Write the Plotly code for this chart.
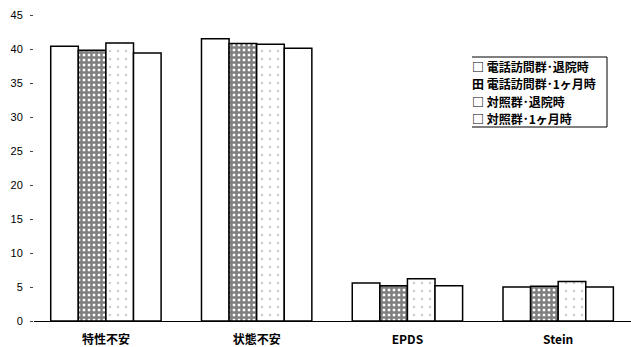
import plotly.graph_objects as go

# Measures and group means
categories = ["特性不安", "状態不安", "EPDS", "Stein"]
series_names = ["電話訪問群･退院時", "電話訪問群･1ヶ月時", "対照群･退院時", "対照群･1ヶ月時"]
tel_discharge = [40.4, 41.5, 5.6, 5.0]
tel_1month = [39.8, 40.8, 5.2, 5.1]
ctrl_discharge = [40.9, 40.7, 6.2, 5.8]
ctrl_1month = [39.4, 40.1, 5.2, 5.0]
y_ticks = [0, 5, 10, 15, 20, 25, 30, 35, 40, 45]
legend_marks = ["□", "田", "□", "□"]

series = [tel_discharge, tel_1month, ctrl_discharge, ctrl_1month]
patterns = [
    dict(shape=""),
    dict(shape="+", fgcolor="black", bgcolor="white", size=5, solidity=0.75),
    dict(shape=".", fgcolor="#9a9a9a", bgcolor="white", size=8, solidity=0.08),
    dict(shape=""),
]

W, H = 631, 347
ML, MR, MT, MB = 34, 0, 15, 26
PW, PH = W - ML - MR, H - MT - MB

bar_w = 0.183
fig = go.Figure()
for i, (name, vals) in enumerate(zip(series_names, series)):
    fig.add_trace(go.Bar(
        x=categories,
        y=vals,
        name=name,
        width=bar_w,
        offset=-2 * bar_w + i * bar_w,
        marker=dict(color="white", pattern=patterns[i],
                    line=dict(color="black", width=1.5)),
        showlegend=False,
    ))

jp_font = "Noto Sans CJK JP"


def px(xp, yp):
    """Pixel position -> paper coordinates of the plot area."""
    return (xp - ML) / PW, (H - MB - yp) / PH


# Legend block: one text row per series, each with its box mark
row_y = [67, 84, 101, 118]
for mark, name, yp in zip(legend_marks, series_names, row_y):
    ax, ay = px(471, yp)
    fig.add_annotation(
        x=ax, y=ay, xref="paper", yref="paper",
        text=f"{mark} {name}", showarrow=False, align="left",
        xanchor="left", yanchor="middle", borderpad=0,
        font=dict(family=jp_font, size=12, color="black", weight="bold"),
    )

fig.update_layout(
    width=W, height=H,
    margin=dict(l=ML, r=MR, t=MT, b=MB),
    paper_bgcolor="white", plot_bgcolor="white",
    barmode="overlay",
    font=dict(family="Liberation Sans", color="black"),
)
fig.update_xaxes(
    range=[-0.477, 3.483], showline=True, linecolor="black", linewidth=1,
    ticks="", showgrid=False, ticklabelstandoff=8,
    tickfont=dict(family=jp_font, size=12, weight="bold"),
)
fig.update_yaxes(
    range=[0, 45], tickvals=y_ticks, ticks="outside", ticklen=3,
    tickcolor="#444", showline=False, showgrid=False, zeroline=False,
    ticklabelstandoff=5, tickfont=dict(size=11, color="black"),
)

# Legend frame (top, bottom, right edges)
lx0, ly0 = px(472, 57)
lx1, ly1 = px(607, 127)
for (a, b, c, d) in [(lx0, ly0, lx1, ly0), (lx0, ly1, lx1, ly1), (lx1, ly0, lx1, ly1)]:
    fig.add_shape(type="line", xref="paper", yref="paper", x0=a, y0=b, x1=c, y1=d,
                  line=dict(color="black", width=1))

fig.write_html("out.html")
